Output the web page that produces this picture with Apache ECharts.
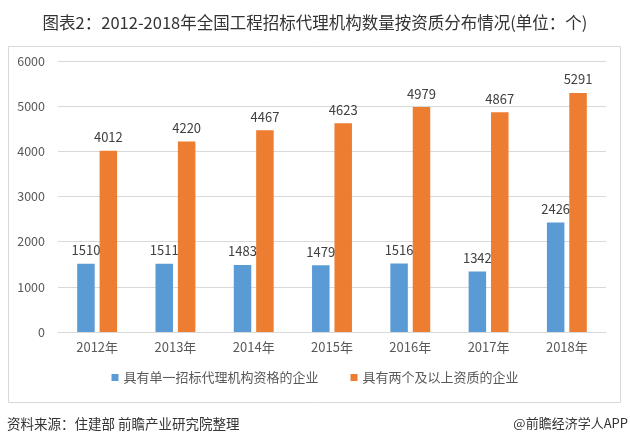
<!DOCTYPE html>
<html><head><meta charset="utf-8">
<script src="https://cdn.jsdelivr.net/npm/echarts@6/dist/echarts.min.js"></script>
<style>html,body{margin:0;padding:0;background:#fff}#c{width:630px;height:446px}</style>
</head><body><div id="c"></div>
<script>
const categories = ['2012年','2013年','2014年','2015年','2016年','2017年','2018年'];
const singleQual = [1510,1511,1483,1479,1516,1342,2426];
const multiQual = [4012,4220,4467,4623,4979,4867,5291];
const seriesNames = ['具有单一招标代理机构资格的企业','具有两个及以上资质的企业'];
const titleText = '图表2：2012-2018年全国工程招标代理机构数量按资质分布情况(单位：个)';
const sourceText = '资料来源：住建部 前瞻产业研究院整理';
const brandText = '@前瞻经济学人APP';
const font = '"Noto Sans CJK SC", "Microsoft YaHei", sans-serif';

const chart = echarts.init(document.getElementById('c'));
chart.setOption({
  animation:false,
  textStyle:{fontFamily:font},
  title:{text:titleText,left:'center',top:9,textStyle:{fontSize:16.5,fontWeight:'normal',color:'#333',fontFamily:font}},
  legend:{bottom:57,left:'center',itemWidth:7,itemHeight:7,itemGap:32,icon:'rect',textStyle:{color:'#595959',fontSize:13,fontFamily:font},data:seriesNames},
  grid:{left:58,right:24,top:61,bottom:114},
  xAxis:{type:'category',data:categories,axisTick:{show:false},axisLine:{lineStyle:{color:'#d9d9d9'}},
    axisLabel:{color:'#595959',fontSize:13,margin:9}},
  yAxis:{type:'value',min:0,max:6000,interval:1000,axisLine:{show:false},axisTick:{show:false},
    axisLabel:{color:'#595959',fontSize:12.5,margin:13,formatter:v=>String(v)},splitLine:{lineStyle:{color:'#d9d9d9'}}},
  series:[
    {name:seriesNames[0],type:'bar',data:singleQual,barWidth:17.5,barGap:'28%',itemStyle:{color:'#5b9bd5'},
     label:{show:true,position:'top',color:'#404040',fontSize:13,distance:7}},
    {name:seriesNames[1],type:'bar',data:multiQual,barWidth:17.5,itemStyle:{color:'#ed7d31'},
     label:{show:true,position:'top',color:'#404040',fontSize:13,distance:7}}
  ],
  graphic:[
    {type:'rect',shape:{x:8.5,y:46.5,width:612,height:356},style:{fill:'none',stroke:'#d9d9d9',lineWidth:1},silent:true},
    {type:'text',left:7,top:417,style:{text:sourceText,fill:'#333',font:'13.5px '+font}},
    {type:'text',right:2,top:417,style:{text:brandText,fill:'#333',font:'13px '+font}}
  ]
});
</script></body></html>
